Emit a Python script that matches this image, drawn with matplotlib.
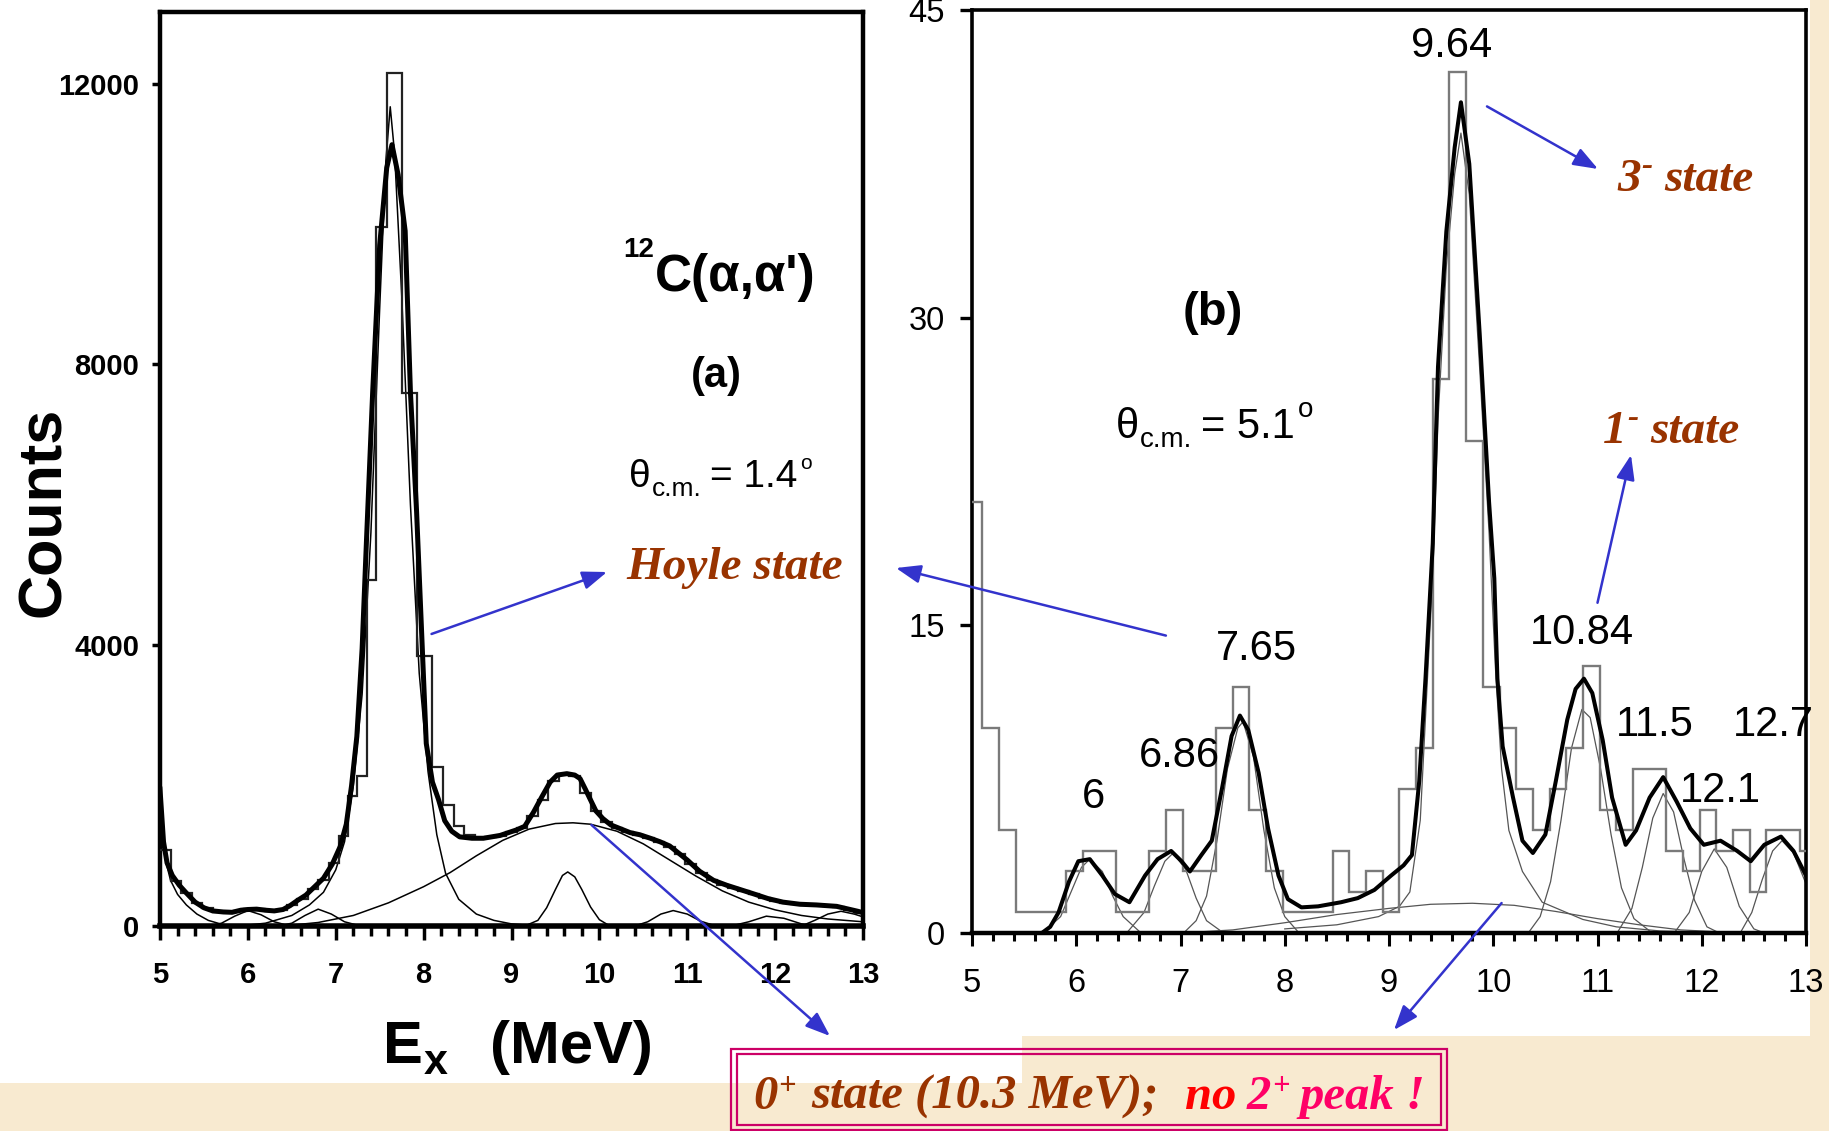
import numpy as np
import matplotlib
matplotlib.use("Agg")
import matplotlib.pyplot as plt
from matplotlib.patches import Rectangle, ConnectionPatch
from matplotlib.transforms import Affine2D
from matplotlib.ticker import MultipleLocator

plt.rcParams['font.family'] = ['Liberation Sans', 'DejaVu Sans']

# ---------------- panel (a): 12C(alpha,alpha') at 1.4 deg ----------------
a_edges = [5.00, 5.12, 5.24, 5.36, 5.48, 5.60, 5.72, 5.84, 5.96, 6.08, 6.20, 6.32,
           6.44, 6.56, 6.68, 6.80, 6.92, 7.04, 7.14, 7.24, 7.35, 7.46, 7.58, 7.75,
           7.92, 8.10, 8.22, 8.34, 8.46, 8.58, 8.70, 8.82, 8.94, 9.06, 9.18, 9.30,
           9.42, 9.54, 9.66, 9.78, 9.90, 10.02, 10.14, 10.26, 10.38, 10.50, 10.62,
           10.74, 10.86, 10.98, 11.10, 11.22, 11.34, 11.46, 11.58, 11.70, 11.82,
           11.94, 12.06, 12.18, 12.30, 12.42, 12.54, 12.66, 12.78, 12.90, 13.00]
a_counts = [1080, 640, 470, 330, 250, 205, 195, 215, 240, 240, 215, 225, 300, 380,
            520, 660, 900, 1280, 1850, 2130, 4930, 9960, 12150, 7590, 3840, 2270,
            1720, 1420, 1290, 1250, 1270, 1280, 1340, 1400, 1560, 1790, 2060, 2160,
            2140, 1900, 1640, 1480, 1400, 1340, 1300, 1250, 1200, 1130, 1020, 880,
            760, 660, 590, 540, 500, 450, 400, 360, 330, 310, 300, 300, 290, 270,
            230, 190]
a_fit = [(5.00, 1950), (5.04, 1200), (5.08, 900), (5.14, 720), (5.22, 580), (5.30, 470),
         (5.40, 340), (5.50, 260), (5.60, 215), (5.72, 200), (5.82, 195), (5.92, 225),
         (6.00, 235), (6.10, 240), (6.20, 225), (6.30, 215), (6.40, 235), (6.48, 290),
         (6.56, 360), (6.66, 440), (6.76, 560), (6.86, 680), (6.96, 880), (7.05, 1130),
         (7.12, 1450), (7.18, 2000), (7.24, 2700), (7.30, 3950), (7.35, 5500),
         (7.42, 7600), (7.50, 9700), (7.58, 10800), (7.64, 11130), (7.71, 10700),
         (7.79, 9900), (7.85, 7600), (7.92, 5900), (7.97, 4400), (8.03, 2600),
         (8.10, 2050), (8.17, 1800), (8.24, 1500), (8.32, 1350), (8.41, 1270),
         (8.55, 1250), (8.68, 1250), (8.87, 1290), (9.06, 1370), (9.15, 1420),
         (9.25, 1620), (9.35, 1850), (9.44, 2050), (9.52, 2150), (9.63, 2170),
         (9.72, 2150), (9.78, 2100), (9.84, 1950), (9.89, 1820), (9.96, 1640),
         (10.04, 1530), (10.13, 1440), (10.23, 1390), (10.35, 1330), (10.46, 1300),
         (10.58, 1250), (10.69, 1200), (10.80, 1140), (10.88, 1060), (11.00, 940),
         (11.14, 780), (11.30, 650), (11.45, 580), (11.60, 520), (11.75, 460),
         (11.92, 390), (12.09, 340), (12.28, 310), (12.47, 300), (12.70, 280),
         (12.94, 210), (13.00, 190)]
a_low_edge = [(5.00, 1900), (5.03, 1300), (5.07, 900), (5.12, 650), (5.20, 450),
              (5.30, 300), (5.42, 170), (5.55, 80), (5.70, 25), (5.85, 0)]
a_peak_600 = [(5.55, 0), (5.70, 40), (5.85, 140), (6.00, 220), (6.15, 160),
              (6.30, 60), (6.45, 10), (6.55, 0)]
a_peak_680 = [(6.35, 0), (6.50, 40), (6.65, 150), (6.80, 240), (6.95, 170),
              (7.10, 60), (7.25, 10), (7.40, 0)]
a_hoyle = [(5.90, 0), (6.20, 40), (6.50, 150), (6.70, 300), (6.86, 480), (7.00, 800),
           (7.10, 1200), (7.20, 2000), (7.30, 3300), (7.40, 5600), (7.50, 8800),
           (7.57, 10900), (7.62, 11670), (7.67, 11000), (7.75, 9000), (7.85, 6000),
           (7.95, 3600), (8.05, 2200), (8.15, 1300), (8.25, 750), (8.40, 380),
           (8.60, 170), (8.80, 80), (9.00, 30), (9.30, 0)]
a_broad = [(6.40, 0), (6.80, 50), (7.20, 150), (7.60, 330), (8.00, 560), (8.30, 760),
           (8.60, 1000), (8.90, 1220), (9.20, 1380), (9.50, 1460), (9.70, 1470),
           (9.90, 1450), (10.20, 1350), (10.50, 1170), (10.80, 940), (11.10, 710),
           (11.40, 500), (11.70, 340), (12.00, 230), (12.30, 150), (12.60, 100),
           (13.00, 60)]
a_peak_964 = [(9.15, 0), (9.30, 80), (9.40, 260), (9.50, 520), (9.58, 720), (9.64, 770),
              (9.72, 700), (9.80, 520), (9.90, 270), (10.00, 90), (10.10, 15), (10.20, 0)]
a_peak_1084 = [(10.40, 0), (10.55, 60), (10.70, 170), (10.84, 220), (11.00, 170),
               (11.15, 70), (11.30, 10), (11.40, 0)]
a_peak_119 = [(11.50, 0), (11.70, 60), (11.90, 140), (12.10, 110), (12.30, 30), (12.45, 0)]
a_peak_127 = [(12.30, 0), (12.45, 80), (12.60, 170), (12.75, 210), (12.90, 170), (13.00, 130)]
a_xticks = [5, 6, 7, 8, 9, 10, 11, 12, 13]
a_yticks = [0, 4000, 8000, 12000]

# ---------------- panel (b): 5.1 deg spectrum ----------------
b_bin_lo, b_bin_width = 4.94, 0.16
b_counts = [21, 10, 5, 1, 1, 1, 3, 4, 4, 1, 1, 4, 6, 3, 3, 10, 12, 6, 3, 1, 1, 1, 4, 2,
            3, 1, 7, 9, 27, 42, 24, 12, 10, 7, 5, 7, 9, 13, 6, 5, 8, 8, 4, 3, 6, 4, 5,
            2, 5, 5, 4]
b_fit = [(5.67, 0.0), (5.75, 0.3), (5.83, 1.0), (5.93, 2.5), (6.02, 3.5), (6.13, 3.6),
         (6.25, 2.8), (6.37, 1.9), (6.51, 1.5), (6.66, 2.8), (6.78, 3.6), (6.91, 4.0),
         (7.01, 3.5), (7.09, 3.0), (7.20, 3.8), (7.30, 4.5), (7.40, 7.1), (7.49, 9.6),
         (7.57, 10.6), (7.65, 9.9), (7.75, 7.8), (7.84, 5.1), (7.94, 2.8), (8.03, 1.65),
         (8.16, 1.25), (8.32, 1.3), (8.54, 1.5), (8.70, 1.7), (8.86, 2.1), (9.02, 2.8),
         (9.14, 3.3), (9.22, 3.8), (9.29, 7.4), (9.35, 12.4), (9.42, 19.0), (9.47, 27.6),
         (9.55, 34.2), (9.63, 38.3), (9.69, 40.5), (9.77, 37.5), (9.87, 29.2),
         (9.96, 21.0), (10.01, 17.3), (10.04, 12.4), (10.09, 9.1), (10.19, 6.6),
         (10.28, 4.5), (10.38, 3.9), (10.50, 4.8), (10.60, 7.4), (10.71, 10.4),
         (10.79, 11.9), (10.87, 12.4), (10.95, 11.7), (11.05, 9.4), (11.14, 6.6),
         (11.27, 4.3), (11.37, 5.0), (11.50, 6.6), (11.63, 7.6), (11.76, 6.4),
         (11.89, 5.1), (12.02, 4.3), (12.18, 4.5), (12.34, 4.0), (12.47, 3.5),
         (12.60, 4.3), (12.76, 4.7), (12.88, 4.0), (13.00, 2.8)]
b_peak_600 = [(5.70, 0.1), (5.85, 0.8), (5.95, 2.0), (6.05, 3.2), (6.13, 3.6),
              (6.25, 3.0), (6.35, 1.8), (6.45, 0.8), (6.60, 0.1)]
b_peak_686 = [(6.50, 0.1), (6.65, 1.0), (6.75, 2.3), (6.85, 3.5), (6.93, 3.9),
              (7.05, 3.1), (7.15, 1.7), (7.25, 0.6), (7.40, 0.05)]
b_peak_765 = [(7.05, 0.1), (7.15, 0.6), (7.25, 1.8), (7.35, 4.5), (7.45, 8.0),
              (7.55, 10.0), (7.60, 10.3), (7.70, 8.6), (7.80, 5.0), (7.90, 2.2),
              (8.00, 0.8), (8.12, 0.1)]
b_broad = [(7.00, 0.0), (7.50, 0.15), (8.00, 0.5), (8.50, 0.9), (9.00, 1.2), (9.40, 1.4),
           (9.80, 1.45), (10.20, 1.35), (10.60, 1.05), (11.00, 0.7), (11.40, 0.4),
           (11.80, 0.15), (12.20, 0.05), (12.60, 0.0)]
b_peak_964 = [(8.00, 0.2), (8.50, 0.4), (8.90, 0.8), (9.10, 1.3), (9.20, 2.0), (9.30, 5.5),
              (9.35, 10.5), (9.42, 17.5), (9.47, 25.0), (9.55, 32.5), (9.63, 37.0),
              (9.69, 39.0), (9.77, 36.0), (9.87, 27.5), (9.96, 19.5), (10.02, 13.0),
              (10.08, 8.0), (10.15, 5.0), (10.28, 3.0), (10.47, 1.5), (10.86, 0.66),
              (11.18, 0.3), (11.60, 0.1), (12.00, 0.05)]
b_peak_1084 = [(10.35, 0.1), (10.45, 0.8), (10.55, 2.5), (10.65, 5.5), (10.75, 9.0),
               (10.85, 10.9), (10.93, 10.5), (11.03, 8.0), (11.13, 4.8), (11.23, 2.2),
               (11.35, 0.7), (11.50, 0.1)]
b_peak_115 = [(11.20, 0.1), (11.33, 1.2), (11.43, 3.2), (11.53, 5.6), (11.63, 6.8),
              (11.73, 5.9), (11.83, 3.6), (11.93, 1.6), (12.05, 0.3), (12.15, 0.05)]
b_peak_121 = [(11.75, 0.1), (11.88, 1.0), (12.00, 3.0), (12.12, 4.1), (12.24, 3.2),
              (12.36, 1.3), (12.50, 0.2), (12.60, 0.0)]
b_peak_127 = [(12.38, 0.1), (12.48, 1.0), (12.58, 2.6), (12.68, 4.0), (12.77, 4.5),
              (12.88, 3.9), (13.00, 2.4)]
b_xticks = [5, 6, 7, 8, 9, 10, 11, 12, 13]
b_yticks = [0, 15, 30, 45]
b_peak_names = ["9.64", "7.65", "6.86", "6", "10.84", "11.5", "12.7", "12.1"]
b_peak_name_x = [9.604, 7.724, 6.986, 6.161, 10.851, 11.552, 12.683, 12.175]
b_peak_name_y = [42.7, 13.3, 8.1, 6.1, 14.1, 9.6, 9.6, 6.4]

BROWN = '#993300'
BLUE = '#3333cc'
BOX = '#cc0066'
BEIGE = '#f8ead0'

W, H = 1829, 1131
fig = plt.figure(figsize=(W / 100, H / 100), dpi=100)
fig.patch.set_facecolor(BEIGE)
# pixel coordinates measured from the top-left corner of the slide
pix = Affine2D().scale(1 / W, -1 / H).translate(0, 1) + fig.transFigure

# white area holding the two spectra
fig.add_artist(Rectangle((0, 0), 1810, 1036, transform=pix, facecolor='white',
                         edgecolor='none', zorder=-5))
fig.add_artist(Rectangle((0, 1030), 1022, 53, transform=pix, facecolor='white',
                         edgecolor='none', zorder=-5))


def xy(pairs):
    arr = np.array(pairs, dtype=float)
    return arr[:, 0], arr[:, 1]


# ---------------- axes (a) ----------------
axL = fig.add_axes([160 / W, 1 - 926 / H, 703 / W, 914 / H])
axL.set_xlim(5, 13)
axL.set_ylim(0, 13020)
for comp in (a_low_edge, a_peak_600, a_peak_680, a_hoyle, a_broad,
             a_peak_964, a_peak_1084, a_peak_119, a_peak_127):
    e, n = xy(comp)
    axL.plot(e, n, color='black', lw=1.1, zorder=2)
axL.stairs(a_counts, a_edges, baseline=None, color='#222222', lw=1.6, zorder=3)
e, n = xy(a_fit)
axL.plot(e, n, color='black', lw=3.6, zorder=4, solid_joinstyle='round')

for s in axL.spines.values():
    s.set_linewidth(3.2)
axL.spines['bottom'].set_linewidth(4.0)
axL.set_xticks(a_xticks)
axL.set_xticklabels([str(v) for v in a_xticks], fontsize=21, fontweight='bold')
axL.set_yticks(a_yticks)
axL.set_yticklabels([str(v) for v in a_yticks], fontsize=21, fontweight='bold')
axL.xaxis.set_minor_locator(MultipleLocator(0.2))
axL.tick_params(axis='x', which='major', direction='out', length=10, width=2.5, pad=15)
axL.tick_params(axis='x', which='minor', direction='out', length=7.5, width=2.5)
axL.tick_params(axis='y', which='major', direction='out', length=6, width=2.5, pad=9)

# ---------------- axes (b) ----------------
axR = fig.add_axes([972 / W, 1 - 933 / H, 834 / W, 923 / H])
axR.set_xlim(5, 13)
axR.set_ylim(0, 45)
for comp in (b_peak_600, b_peak_686, b_peak_765, b_broad, b_peak_964,
             b_peak_1084, b_peak_115, b_peak_121, b_peak_127):
    e, n = xy(comp)
    axR.plot(e, n, color='#555555', lw=0.9, zorder=2)
b_edges = np.round(b_bin_lo + b_bin_width * np.arange(len(b_counts) + 1), 2)
axR.stairs(b_counts, b_edges, baseline=None, color='#7a7a7a', lw=1.7, zorder=3)
e, n = xy(b_fit)
axR.plot(e, n, color='black', lw=2.9, zorder=4, solid_joinstyle='round')

for s in axR.spines.values():
    s.set_linewidth(2.6)
axR.spines['bottom'].set_linewidth(3.2)
axR.set_xticks(b_xticks)
axR.set_xticklabels([str(v) for v in b_xticks], fontsize=23.5)
axR.set_yticks(b_yticks)
axR.set_yticklabels([str(v) for v in b_yticks], fontsize=23.5)
axR.xaxis.set_minor_locator(MultipleLocator(0.2))
axR.tick_params(axis='x', which='major', direction='out', length=9.5, width=2.2, pad=16)
axR.tick_params(axis='x', which='minor', direction='out', length=5.5, width=2.2)
axR.tick_params(axis='y', which='major', direction='out', length=8.5, width=2.4, pad=11)

for name, ex, ny in zip(b_peak_names, b_peak_name_x, b_peak_name_y):
    axR.text(ex, ny, name, fontsize=30, ha='center', va='baseline', clip_on=False, zorder=6)

# ---------------- multi-style text helper ----------------
renderer = fig.canvas.get_renderer()


def put_runs(x, y, runs, ha='left', zorder=7):
    items = []
    total = 0.0
    for s, size, rise, gap, style in runs:
        t = fig.text(0, 0, s, transform=pix, fontsize=size, va='baseline',
                     ha='left', zorder=zorder, **style)
        w = t.get_window_extent(renderer).width
        items.append((t, rise, gap, w))
        total += gap + w
    cur = x - total / 2 if ha == 'center' else x
    for t, rise, gap, w in items:
        cur += gap
        t.set_position((cur, y - rise))
        cur += w


bold = dict(fontweight='bold')
reg = {}
serif = dict(family=['Liberation Serif', 'DejaVu Serif'], fontweight='bold',
             fontstyle='italic')

# axis titles of panel (a)
fig.text(60, 512, 'Counts', transform=pix, fontsize=44, fontweight='bold',
         rotation=90, rotation_mode='anchor', ha='center', va='baseline')
put_runs(383, 1063, [("E", 43, 0, 0, bold), ("x", 31, -11, 1, bold),
                     ("(MeV)", 43, 0, 42, bold)])

# labels inside panel (a)
put_runs(623, 291, [("12", 20, 34, 0, bold), ("C(α,α')", 37, 0, 1, bold)])
fig.text(716, 387, '(a)', transform=pix, fontsize=30, fontweight='bold',
         ha='center', va='baseline')
put_runs(629, 487, [("θ", 28, 0, 0, reg), ("c.m.", 19, -9, 1, reg),
                    ("= 1.4", 28, 0, 9, reg), ("o", 15, 18, 2, reg)])

# labels inside panel (b)
fig.text(1213, 325, '(b)', transform=pix, fontsize=34, fontweight='bold',
         ha='center', va='baseline')
put_runs(1116, 438, [("θ", 30, 0, 0, reg), ("c.m.", 20, -9, 1, reg),
                     ("= 5.1", 30, 0, 9, reg), ("o", 20, 21, 3, reg)])

# state annotations
fig.text(626, 579, 'Hoyle state', transform=pix, fontsize=34, color=BROWN,
         va='baseline', ha='left', zorder=7, **serif)
put_runs(1617, 191, [("3", 34, 0, 0, dict(color=BROWN, **serif)),
                     ("-", 24, 16, 1, dict(color=BROWN, **serif)),
                     ("state", 34, 0, 12, dict(color=BROWN, **serif))])
put_runs(1603, 443, [("1", 34, 0, 0, dict(color=BROWN, **serif)),
                     ("-", 24, 16, 1, dict(color=BROWN, **serif)),
                     ("state", 34, 0, 12, dict(color=BROWN, **serif))])

# boxed remark at the bottom
fig.add_artist(Rectangle((731, 1049), 716, 81, transform=pix, fill=False,
                         edgecolor=BOX, lw=1.6, zorder=6))
fig.add_artist(Rectangle((737, 1054), 704, 71, transform=pix, fill=False,
                         edgecolor=BOX, lw=1.6, zorder=6))
put_runs(753, 1109, [("0", 35, 0, 0, dict(color=BROWN, **serif)),
                     ("+", 22, 15, 1, dict(color=BROWN, **serif)),
                     ("state (10.3 MeV);", 35, 0, 16, dict(color=BROWN, **serif)),
                     ("no", 35, 0, 26, dict(color='#ff0000', **serif)),
                     ("2", 35, 0, 10, dict(color='#ff0066', **serif)),
                     ("+", 22, 15, 1, dict(color='#ff0066', **serif)),
                     ("peak !", 35, 0, 10, dict(color='#ff0066', **serif))])

# pointer arrows: tail on a spectrum feature, head next to its annotation
arrows = [(axL, (8.09, 4160), (607, 572)),
          (axR, (6.86, 14.5), (896, 568)),
          (axL, (9.91, 1440), (830, 1036)),
          (axR, (10.08, 1.46), (1394, 1030)),
          (axR, (9.94, 40.3), (1598, 169)),
          (axR, (11.00, 16.1), (1631, 455))]
for ax, tail, head in arrows:
    cp = ConnectionPatch(xyA=tail, coordsA=ax.transData, xyB=head, coordsB=pix,
                         arrowstyle='-|>,head_length=0.75,head_width=0.28',
                         mutation_scale=20, color=BLUE, lw=1.8,
                         shrinkA=0, shrinkB=0, zorder=8)
    fig.add_artist(cp)

fig.savefig('out.png', dpi=100, facecolor=fig.get_facecolor())
